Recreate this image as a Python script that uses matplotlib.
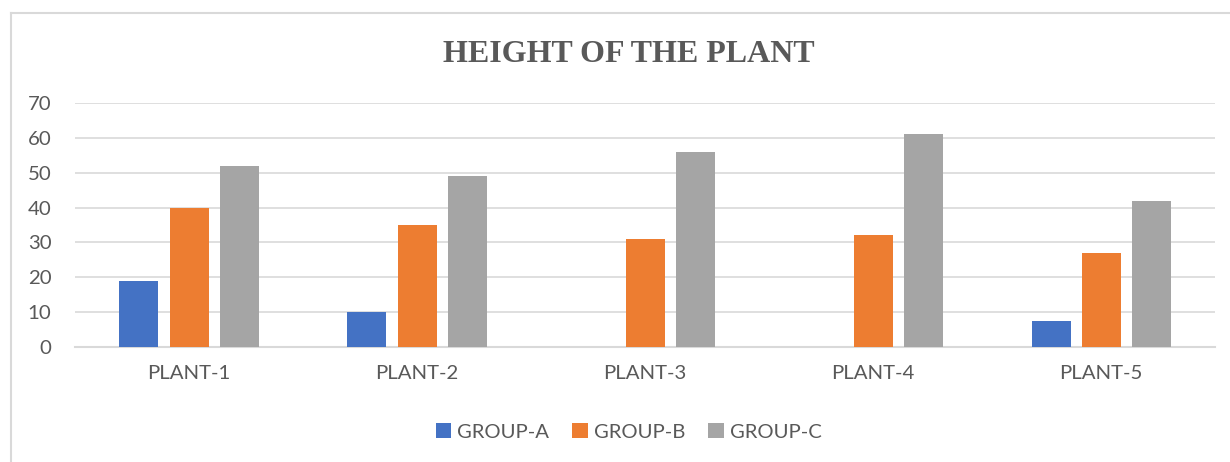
import matplotlib.pyplot as plt
import numpy as np

plants = ["PLANT-1", "PLANT-2", "PLANT-3", "PLANT-4", "PLANT-5"]
group_a = [19, 10, 0, 0, 7.5]
group_b = [40, 35, 31, 32, 27]
group_c = [52, 49, 56, 61, 42]
series_names = ["GROUP-A", "GROUP-B", "GROUP-C"]
colors = ["#4472C4", "#ED7D31", "#A5A5A5"]

plt.rcParams['font.family'] = ['Lato', 'DejaVu Sans']

fig = plt.figure(figsize=(12.3, 4.62), dpi=100)
ax = fig.add_axes([0.061, 0.249, 0.927, 0.528])

x = np.arange(len(plants))
w = 0.171
for i, (vals, name, col) in enumerate(zip([group_a, group_b, group_c], series_names, colors)):
    ax.bar(x + (i - 1) * 0.22, vals, width=w, color=col, label=name, zorder=3)

ax.set_xlim(-0.5, 4.5)
ax.set_ylim(0, 70)
ax.set_yticks(range(0, 71, 10))
ax.set_xticks(x)
ax.set_xticklabels(plants)
ax.grid(axis='y', color='#d9d9d9', linewidth=1.2, zorder=0)
for s in ['top', 'right', 'left']:
    ax.spines[s].set_visible(False)
ax.spines['bottom'].set_color('#d9d9d9')
ax.spines['bottom'].set_linewidth(1.5)
ax.tick_params(axis='both', length=0, labelsize=14.7, colors='#595959')
ax.tick_params(axis='x', pad=13)
ax.tick_params(axis='y', pad=17)

fig.text(0.511, 0.882, "HEIGHT OF THE PLANT", ha='center', va='center',
         fontsize=23, fontweight='bold', color='#595959', family='Liberation Serif')

leg = fig.legend(loc='center', bbox_to_anchor=(0.511, 0.065), ncol=3, frameon=False,
                 fontsize=14.6, handlelength=0.75, handleheight=0.75, handletextpad=0.3,
                 columnspacing=1.15)
for t in leg.get_texts():
    t.set_color('#595959')

# outer chart frame (left and top edges visible)
fig.add_artist(plt.Line2D([0.009, 0.009], [0.0, 0.972], color='#d9d9d9', linewidth=1.5))
fig.add_artist(plt.Line2D([0.009, 1.0], [0.972, 0.972], color='#d9d9d9', linewidth=1.5))

fig.savefig("out.png", dpi=100)
